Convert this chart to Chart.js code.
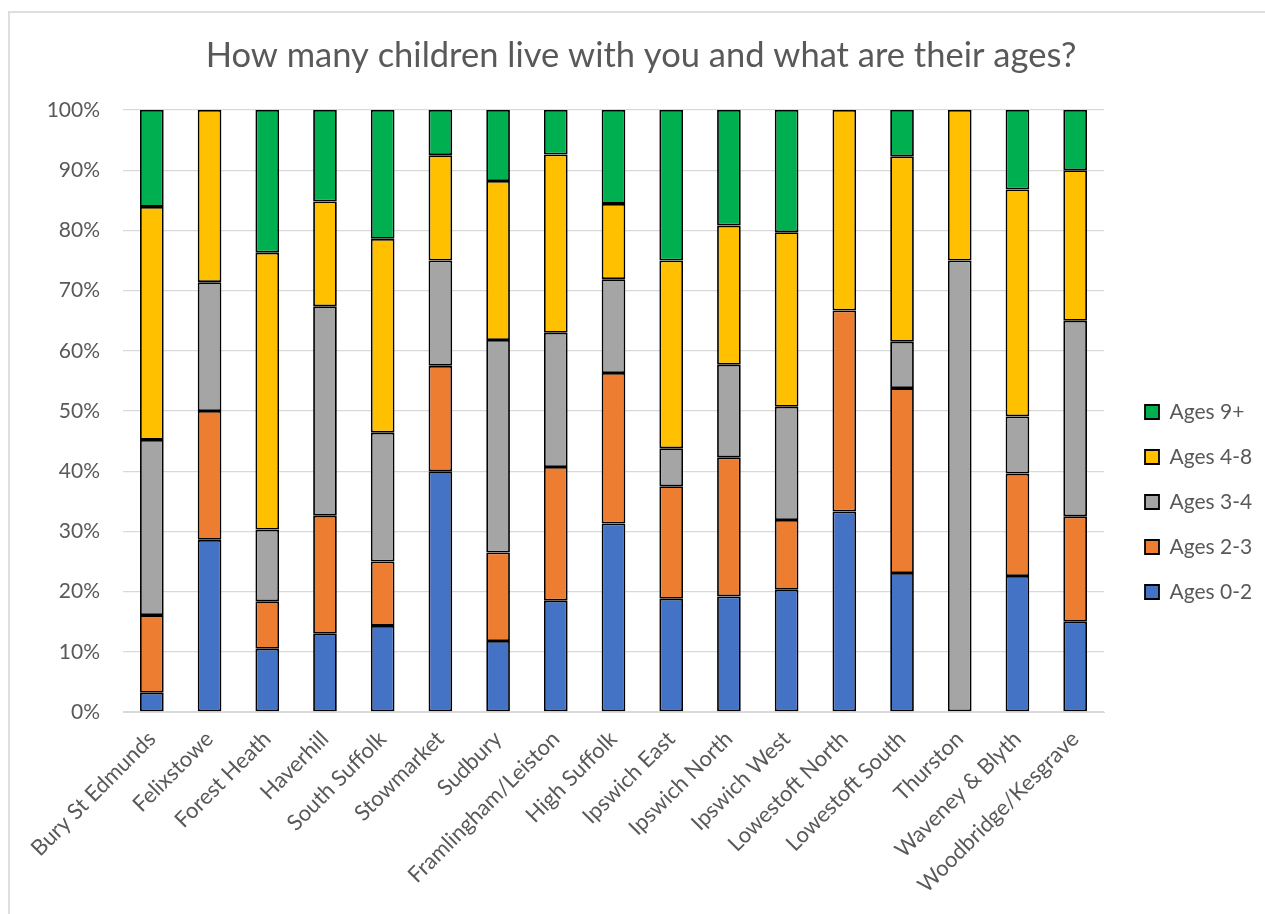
<!DOCTYPE html>
<html>
<head>
<meta charset="utf-8">
<title>Children living at home by age</title>
<script src="https://cdn.jsdelivr.net/npm/chart.js@4.4.1/dist/chart.umd.min.js"></script>
<style>
    html, body { margin: 0; padding: 0; background: #fff; overflow: hidden; }
    .frame {
        position: absolute; left: 8px; top: 11px;
        width: 1300px; height: 1000px;
        border: 2px solid #dedede;
    }
    .chart-wrap { position: absolute; left: 0; top: 0; }
</style>
</head>
<body>
<div class="frame"></div>
<div class="chart-wrap"><canvas id="ages-chart" width="1282" height="914"></canvas></div>
<script>
// Share of children in each age band, per area (percent of respondents' children)
const areas = [
    'Bury St Edmunds', 'Felixstowe', 'Forest Heath', 'Haverhill', 'South Suffolk',
    'Stowmarket', 'Sudbury', 'Framlingham/Leiston', 'High Suffolk', 'Ipswich East',
    'Ipswich North', 'Ipswich West', 'Lowestoft North', 'Lowestoft South', 'Thurston',
    'Waveney & Blyth', 'Woodbridge/Kesgrave'
];
const ages0to2 = [3.2, 28.6, 10.5, 13.0, 14.3, 40.0, 11.8, 18.5, 31.3, 18.8, 19.2, 20.3, 33.3, 23.1, 0, 22.6, 15.0];
const ages2to3 = [12.9, 21.4, 7.9, 19.6, 10.7, 17.5, 14.7, 22.2, 25.0, 18.7, 23.1, 11.6, 33.4, 30.7, 0, 17.0, 17.5];
const ages3to4 = [29.1, 21.4, 11.9, 34.8, 21.4, 17.5, 35.3, 22.3, 15.6, 6.3, 15.4, 18.8, 0, 7.7, 75.0, 9.5, 32.5];
const ages4to8 = [38.7, 28.6, 46.0, 17.4, 32.2, 17.5, 26.4, 29.6, 12.5, 31.2, 23.1, 29.0, 33.3, 30.8, 25.0, 37.7, 25.0];
const ages9plus = [16.1, 0, 23.7, 15.2, 21.4, 7.5, 11.8, 7.4, 15.6, 25.0, 19.2, 20.3, 0, 7.7, 0, 13.2, 10.0];

const yTicks = [0, 10, 20, 30, 40, 50, 60, 70, 80, 90, 100];

const FONT = 'Lato, "Open Sans", sans-serif';
const TEXT_COLOR = '#595959';
const GRID_COLOR = '#d9d9d9';

// legend column: fixed width, gap from plot edge to swatches, vertical trim
const LEGEND_WIDTH = 178;
const LEGEND_GAP = 41;
const LEGEND_SHIFT_Y = 45;

function series(label, data, color) {
    return {
        label: label,
        data: data,
        backgroundColor: color,
        borderColor: '#000',
        borderWidth: 1.8,
        borderSkipped: false,
        categoryPercentage: 1,
        barPercentage: 0.41
    };
}

// Chart.js always butts the legend against the plot; give it a fixed
// column width and move the items over a bit
const legendNudge = {
    id: 'legendNudge',
    afterInit(chart) {
        const lg = chart.legend;
        if (!lg) return;
        const fit = lg.fit.bind(lg);
        lg.fit = function () {
            fit();
            this.width = LEGEND_WIDTH;
        };
    },
    afterLayout(chart) {
        const lg = chart.legend;
        if (!lg) return;
        const pad = lg.options.labels.padding;
        const dx = chart.chartArea.right + LEGEND_GAP - (lg.left + pad);
        lg.left += dx;
        lg.right += dx;
        lg.top += LEGEND_SHIFT_Y;
        lg.bottom += LEGEND_SHIFT_Y;
    }
};

const ctx = document.getElementById('ages-chart');

new Chart(ctx, {
    type: 'bar',
    data: {
        labels: areas,
        datasets: [
            series('Ages 0-2', ages0to2, '#4472C4'),
            series('Ages 2-3', ages2to3, '#ED7D31'),
            series('Ages 3-4', ages3to4, '#A5A5A5'),
            series('Ages 4-8', ages4to8, '#FFC000'),
            series('Ages 9+', ages9plus, '#00B050')
        ]
    },
    plugins: [legendNudge],
    options: {
        responsive: false,
        animation: false,
        layout: {
            padding: { left: 0, right: 0, top: 0, bottom: 0 }
        },
        plugins: {
            title: {
                display: true,
                text: 'How many children live with you and what are their ages?',
                color: TEXT_COLOR,
                font: { family: FONT, size: 34.5, weight: 'normal' },
                padding: { top: 35, bottom: 33.6 }
            },
            legend: {
                position: 'right',
                reverse: true,
                labels: {
                    color: TEXT_COLOR,
                    font: { family: FONT, size: 21 },
                    boxWidth: 14,
                    boxHeight: 14,
                    padding: 24
                }
            },
            tooltip: { enabled: false }
        },
        scales: {
            x: {
                stacked: true,
                grid: { display: false, drawTicks: false },
                border: { display: true, color: GRID_COLOR, width: 1 },
                ticks: {
                    color: TEXT_COLOR,
                    font: { family: FONT, size: 22 },
                    autoSkip: false,
                    minRotation: 45,
                    maxRotation: 45,
                    padding: 14
                },
                afterFit: (scale) => { scale.height = 202; }
            },
            y: {
                stacked: true,
                min: 0,
                max: 100,
                afterBuildTicks: (scale) => {
                    scale.ticks = yTicks.map(v => ({ value: v }));
                },
                grid: { color: GRID_COLOR, lineWidth: 1.3, drawTicks: false },
                border: { display: false },
                ticks: {
                    color: TEXT_COLOR,
                    font: { family: FONT, size: 21 },
                    padding: 23,
                    callback: (value) => value + '%'
                },
                afterFit: (scale) => { scale.width = 123; }
            }
        }
    }
});
</script>
</body>
</html>
